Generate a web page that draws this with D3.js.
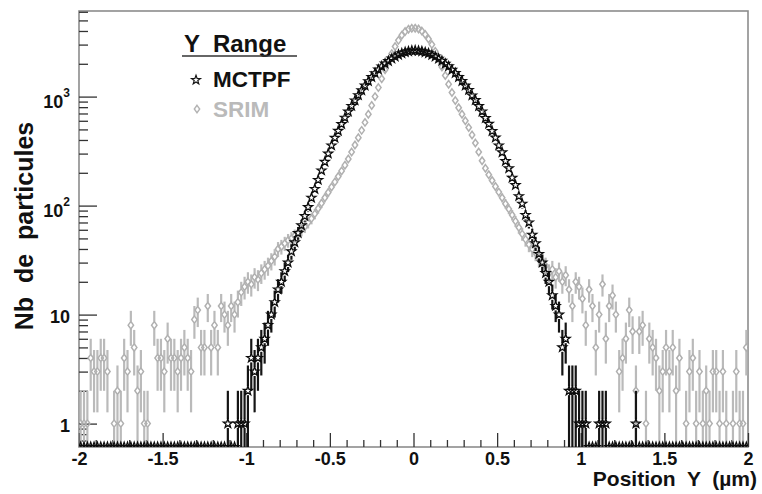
<!DOCTYPE html>
<html><head><meta charset="utf-8">
<script src="https://cdn.jsdelivr.net/npm/d3@7"></script>
<style>body{margin:0;background:#fff}text{font-family:"Liberation Sans",Arial,Helvetica,sans-serif;font-weight:bold}</style>
</head><body><svg id="c" width="762" height="494"></svg>
<script>
// ---- data ----
const histRange = [-2, 2];      // histogram axis range (µm)
const nBins = 200;
const mctpfCounts = [
  0,0,0,0,0,0,0,0,0,0,
  0,0,0,0,0,0,0,0,0,0,
  0,0,0,0,0,0,0,0,0,0,
  0,0,0,0,0,0,0,0,0,0,
  0,0,0,0,1,0,0,1,1,1,
  2,4,3,4,5,6,8,10,13,17,
  20,25,30,38,46,56,66,80,97,118,
  142,172,210,252,300,356,418,485,560,640,
  728,820,922,1030,1142,1260,1385,1508,1640,1770,
  1890,2010,2120,2230,2330,2420,2490,2555,2600,2640,
  2650,2628,2605,2548,2495,2410,2330,2225,2128,2000,
  1895,1760,1645,1510,1390,1262,1150,1025,930,818,
  730,636,562,482,420,356,308,256,220,180,
  154,122,104,82,70,54,45,36,30,24,
  20,15,12,10,5,6,2,2,2,1,
  1,1,0,0,0,1,1,1,0,0,
  0,0,0,0,0,0,1,0,0,0,
  0,0,0,0,0,0,0,0,0,0,
  0,0,0,0,0,0,0,0,0,0,
  0,0,0,0,0,0,0,0,0,0
];
const srimCounts = [
  1,1,1,4,3,3,4,4,3,0,
  1,2,1,4,3,8,5,2,3,1,
  1,0,8,4,4,3,6,4,4,3,
  4,5,4,3,9,11,5,5,12,5,
  8,5,12,10,8,12,10,13,16,18,
  20,19,22,21,24,26,28,31,34,40,
  42,45,48,50,53,56,60,64,70,76,
  84,94,105,118,132,148,165,185,208,235,
  268,310,360,420,490,580,690,830,1000,1210,
  1460,1760,2100,2480,2880,3280,3650,3950,4150,4230,
  4240,4170,3990,3720,3380,3000,2600,2220,1870,1560,
  1300,1090,920,790,690,600,520,445,375,310,
  258,220,192,170,150,133,118,104,93,82,
  72,63,55,49,44,40,37,33,31,28,
  24,26,22,25,20,23,17,12,20,18,
  14,8,17,12,5,10,19,6,12,15,
  10,3,4,6,11,7,2,7,8,1,
  6,5,4,2,3,5,3,5,2,4,
  0,1,3,4,1,3,1,2,1,3,
  3,1,3,1,0,1,3,1,1,5
];
const xMajorTicks = [-2,-1.5,-1,-0.5,0,0.5,1,1.5,2];
const xTickLabels = ["-2","-1.5","-1","-0.5","0","0.5","1","1.5","2"];
const yMajorTicks = [1,10,100,1000];
const yTickBase = ["1","10","10","10"];
const yTickExp = ["","","2","3"];
const yDomain = [0.61, 6100];
const legendTitle = "Y  Range";
const seriesNames = ["MCTPF","SRIM"];
const xTitle = "Position  Y  (µm)";
const yTitle = "Nb  de  particules";

// ---- layout ----
const L=79, R=748, T=11, B=447;
const svg = d3.select('#c');
svg.append('rect').attr('width',762).attr('height',494).attr('fill','#fff');
const x = d3.scaleLinear().domain(histRange).range([L,R]);
const y = d3.scaleLog().domain(yDomain).range([B,T]);
const binW = (histRange[1]-histRange[0])/nBins;
const centers = d3.range(nBins).map(i => histRange[0] + (i+0.5)*binW);

svg.append('defs').append('clipPath').attr('id','clip')
  .append('rect').attr('x',L).attr('y',T).attr('width',R-L).attr('height',B-T);

// frame
svg.append('rect').attr('x',L).attr('y',T).attr('width',R-L).attr('height',B-T)
  .attr('fill','none').attr('stroke','#8c8c8c').attr('stroke-width',1.6);

// x axis (ticks inward)
const xMinor = d3.range(-20,21).map(d=>d/10).filter(d=>Math.abs(d*2-Math.round(d*2))>1e-6);
const gxm = svg.append('g').attr('transform',`translate(0,${B})`)
  .call(d3.axisBottom(x).tickValues(xMinor).tickSize(-7).tickFormat(''));
const gx = svg.append('g').attr('transform',`translate(0,${B})`)
  .call(d3.axisBottom(x).tickValues(xMajorTicks).tickSize(-14).tickPadding(5)
    .tickFormat((d,i)=>xTickLabels[i]));
// y axis
const yMinor = [];
[0.1,1,10,100,1000].forEach(dec=>{ for(let m=2;m<=9;m++){ const v=m*dec; if(v>yDomain[0] && v<yDomain[1]) yMinor.push(v);} });
const gym = svg.append('g').attr('transform',`translate(${L},0)`)
  .call(d3.axisLeft(y).tickValues(yMinor).tickSize(-9).tickFormat(''));
const gy = svg.append('g').attr('transform',`translate(${L},0)`)
  .call(d3.axisLeft(y).tickValues(yMajorTicks).tickSize(-18).tickPadding(9).tickFormat(''));
[gx,gxm,gy,gym].forEach(g=>{
  g.select('.domain').remove();
  g.selectAll('.tick line').attr('stroke','#333').attr('stroke-width',1.3);
});
gx.selectAll('.tick text').attr('font-size',18).attr('fill','#111')
  .style('font-family','"Liberation Sans",Arial,sans-serif').style('font-weight','bold');
gy.selectAll('.tick').each(function(d,i){
  const t = d3.select(this).select('text');
  t.attr('font-size',18).attr('fill','#111').attr('x',-9)
   .style('font-family','"Liberation Sans",Arial,sans-serif').style('font-weight','bold');
  t.text(null);
  if(yTickExp[i]){
    t.attr('dy','0.62em');
    t.append('tspan').text(yTickBase[i]);
    t.append('tspan').attr('font-size',12).attr('dy','-0.95em').text(yTickExp[i]);
  } else {
    t.attr('dy','0.42em');
    t.append('tspan').text(yTickBase[i]);
  }
});

// ---- markers ----
function starPath(Ro, Ri){
  const p=[];
  for(let i=0;i<10;i++){ const a=-Math.PI/2+i*Math.PI/5, r=i%2?Ri:Ro; p.push([r*Math.cos(a), r*Math.sin(a)]); }
  return 'M'+p.map(q=>q[0].toFixed(2)+','+q[1].toFixed(2)).join('L')+'Z';
}
const STAR = starPath(4.7,1.9);
const DIAM = 'M0,-3.7L2.7,0L0,3.7L-2.7,0Z';

const plot = svg.append('g').attr('clip-path','url(#clip)');

function drawSeries(counts, color, barColor, path, sw, gap){
  const pts = counts.map((n,i)=>({x:centers[i], n}));
  const gb = plot.append('g').attr('stroke',barColor).attr('stroke-width',2.2).attr('fill','none');
  pts.filter(p=>p.n>0).forEach(p=>{
    const e = Math.sqrt(p.n);
    const cy = y(p.n), cx = x(p.x);
    const yHi = y(p.n+e);
    const yLo = (p.n-e)>yDomain[0] ? y(p.n-e) : B+2;
    if(cy-gap > yHi) gb.append('line').attr('x1',cx).attr('x2',cx).attr('y1',yHi).attr('y2',cy-gap);
    if(yLo > cy+gap) gb.append('line').attr('x1',cx).attr('x2',cx).attr('y1',cy+gap).attr('y2',yLo);
  });
  plot.append('g').selectAll('path').data(pts).join('path')
    .attr('d',path)
    .attr('transform',p=>`translate(${x(p.x)},${p.n>0?y(p.n):B})`)
    .attr('fill','none').attr('stroke',color).attr('stroke-width',sw);
}
drawSeries(srimCounts, '#b0b0b0', '#bababa', DIAM, 1.5, 3.7);
drawSeries(mctpfCounts, '#0c0c0c', '#151515', STAR, 1.3, 4.4);

// ---- legend ----
svg.append('text').attr('x',184).attr('y',52).attr('font-size',24).attr('fill','#111')
  .style('white-space','pre').text(legendTitle);
svg.append('line').attr('x1',182).attr('x2',297).attr('y1',56).attr('y2',56)
  .attr('stroke','#333').attr('stroke-width',1.5);
svg.append('path').attr('d',STAR).attr('transform','translate(196,80)')
  .attr('fill','none').attr('stroke','#141414').attr('stroke-width',1.2);
svg.append('text').attr('x',213).attr('y',87).attr('font-size',22.5).attr('fill','#111').text(seriesNames[0]);
svg.append('path').attr('d',DIAM).attr('transform','translate(197,109)')
  .attr('fill','none').attr('stroke','#b3b3b3').attr('stroke-width',1.4);
svg.append('text').attr('x',213).attr('y',117).attr('font-size',22.5).attr('fill','#bababa').text(seriesNames[1]);

// ---- titles ----
svg.append('text').attr('text-anchor','end').attr('x',757).attr('y',486)
  .attr('font-size',21).attr('fill','#111').style('white-space','pre').text(xTitle);
svg.append('text').attr('text-anchor','middle')
  .attr('transform','translate(33,226) rotate(-90)')
  .attr('font-size',25).attr('fill','#111').style('white-space','pre').text(yTitle);
</script></body></html>
